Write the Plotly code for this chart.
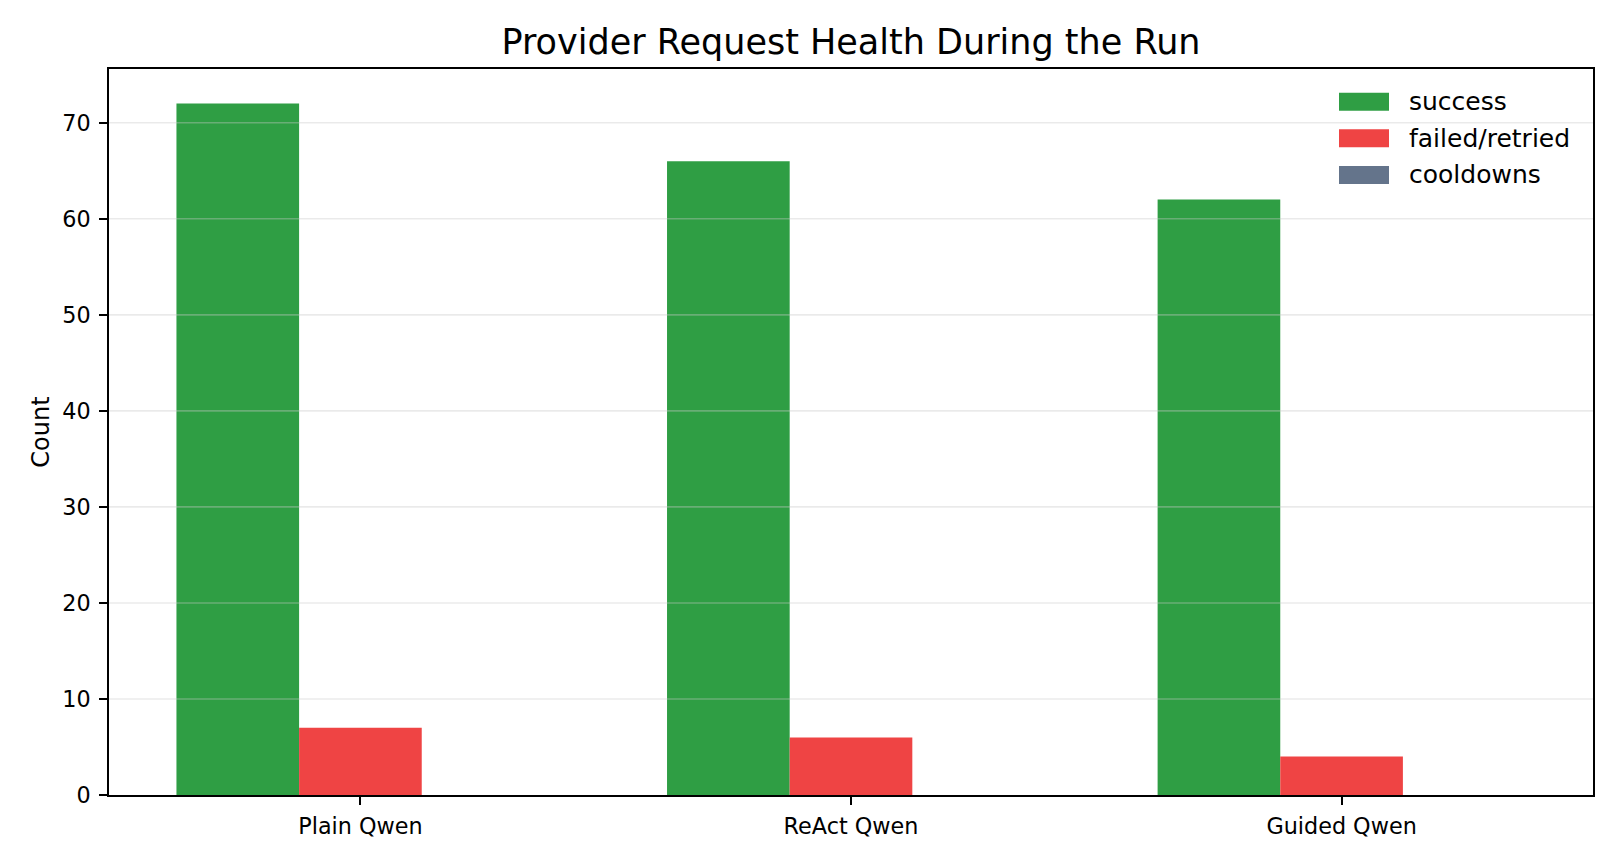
import plotly.graph_objects as go

# ---- data ----
categories = ["Plain Qwen", "ReAct Qwen", "Guided Qwen"]
series_names = ["success", "failed/retried", "cooldowns"]
success = [72, 66, 62]
failed_retried = [7, 6, 4]
cooldowns = [0, 0, 0]
y_ticks = [0, 10, 20, 30, 40, 50, 60, 70]

colors = ["#2f9e44", "#ef4444", "#64748b"]
series_values = [success, failed_retried, cooldowns]

FONT = "DejaVu Sans"
x_pos = list(range(len(categories)))

fig = go.Figure()
for name, vals, col in zip(series_names, series_values, colors):
    fig.add_trace(go.Bar(
        x=x_pos, y=vals, name=name, marker=dict(color=col, line=dict(width=0)),
        showlegend=False,
    ))

ymax = max(max(v) for v in series_values) * 1.05
n = len(categories)
xlo = -0.375 - 0.1375 * (n - 1 + 0.75) / 2.75
xhi = (n - 1) + 0.375 + 0.1375 * (n - 1 + 0.75) / 2.75

# gridlines drawn above bars (semi-transparent), like the reference
shapes = []
for t in y_ticks[1:]:
    shapes.append(dict(type="line", xref="paper", yref="y", x0=0, x1=1, y0=t, y1=t,
                       line=dict(color="rgba(200,200,200,0.38)", width=1.6), layer="above"))

# manual legend (wide swatches like the reference)
annotations = []
L, R, T, B = 109, 1593, 69, 795.5
pw, ph = R - L, B - T
row_y = [101.7, 138.3, 175.0]
for name, col, yy in zip(series_names, colors, row_y):
    shapes.append(dict(type="rect", xref="paper", yref="paper",
                       x0=(1339 - L) / pw, x1=(1389 - L) / pw,
                       y0=(B - yy - 9) / ph, y1=(B - yy + 9) / ph,
                       fillcolor=col, line=dict(width=0), layer="above"))
    annotations.append(dict(xref="paper", yref="paper", x=(1407 - L) / pw, y=(B - yy) / ph,
                            text=name, showarrow=False, xanchor="left", yanchor="middle",
                            font=dict(family=FONT, size=25, color="black")))

fig.update_layout(
    width=1620, height=864,
    margin=dict(l=L, r=1620 - R, t=T, b=864 - B, autoexpand=False),
    paper_bgcolor="white", plot_bgcolor="white",
    barmode="group", bargap=0.25, bargroupgap=0,
    font=dict(family=FONT, size=22, color="black"),
    title=dict(text="Provider Request Health During the Run",
               font=dict(family=FONT, size=35, color="black"),
               x=0.5, xref="paper", xanchor="center",
               y=1 - 42 / 864, yref="container", yanchor="middle"),
    shapes=shapes,
    annotations=annotations,
    xaxis=dict(range=[xlo, xhi], tickmode="array", tickvals=x_pos, ticktext=categories,
               showgrid=False, zeroline=False, showline=True, linecolor="black", linewidth=1.8,
               mirror=True, ticks="outside", ticklen=8, tickwidth=1.8, tickcolor="black",
               ticklabelstandoff=2,
               tickfont=dict(family=FONT, size=22.3, color="black")),
    yaxis=dict(range=[0, ymax], tickmode="array", tickvals=y_ticks,
               showgrid=False, zeroline=False, showline=True, linecolor="black", linewidth=1.8,
               mirror=True, ticks="outside", ticklen=8, tickwidth=1.8, tickcolor="black",
               ticklabelstandoff=4,
               tickfont=dict(family=FONT, size=22.3, color="black"),
               title=dict(text="Count", font=dict(family=FONT, size=24, color="black"),
                          standoff=6)),
)

fig.write_html("out.html")
